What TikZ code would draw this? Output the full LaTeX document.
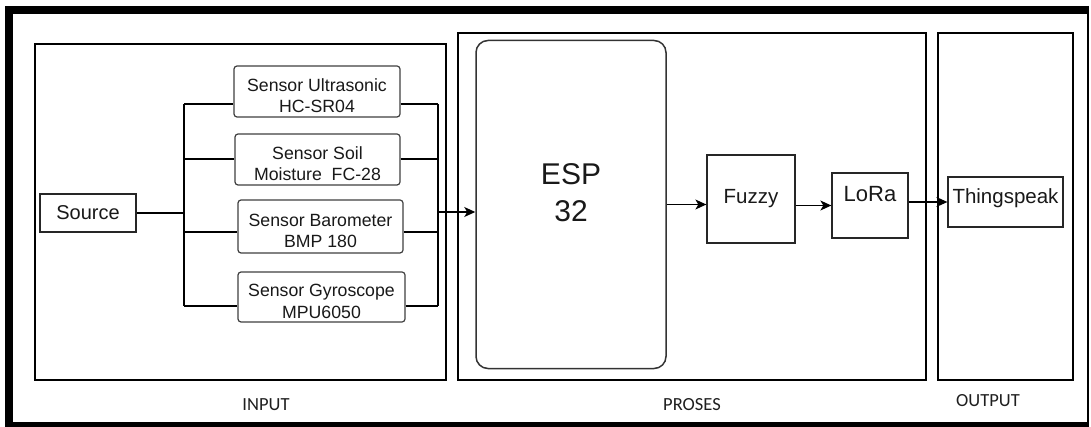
\documentclass[tikz,border=0pt]{standalone}
\usepackage{fontspec}
\setmainfont{Liberation Sans}
\newfontfamily\lblfont{Carlito}
\usetikzlibrary{arrows.meta}
\begin{document}
\begin{tikzpicture}[x=1pt,y=-1pt,
  blk/.style={draw=black!85, line width=1.3pt, inner sep=0pt, text=black!90},
  sens/.style={draw=black!75, line width=1.2pt, rounded corners=3pt, inner sep=0pt,
    align=center, text=black!90, font=\fontsize{17.7}{21.5}\selectfont,
    text height=43pt, text depth=0pt},
  grp/.style={draw=black, line width=1.8pt},
  conn/.style={line width=1.3pt},
  arr/.style={conn, -{Stealth[length=11pt,width=10pt,inset=3pt]}},
  lbl/.style={font=\lblfont\fontsize{18.5}{20}\selectfont, inner sep=0pt, text=black!88}]
\useasboundingbox (0,0) rectangle (1091,427);
\fill[white] (0,0) rectangle (1091,427);
% outer frame
\draw[line width=8pt] (1088,10) -- (9,10) -- (9,426) -- (1088,426);
\draw[line width=2pt] (1088,6) -- (1088,427);
% group boxes
\draw[grp] (35,44) rectangle (446,380);
\draw[grp] (458,33) rectangle (926,380);
\draw[grp] (938,33) rectangle (1073,380);
% nodes
\node[blk, minimum width=96pt, minimum height=38pt, font=\fontsize{20}{22}\selectfont] (source) at (88,213) {Source};
\node[sens, minimum width=166pt, minimum height=51pt] (s1) at (317,91.5) {Sensor Ultrasonic\\HC-SR04};
\node[sens, minimum width=165pt, minimum height=51pt] (s2) at (317.5,159.5) {Sensor Soil\\Moisture\ \ FC-28};
\node[sens, minimum width=165pt, minimum height=53pt] (s3) at (320.5,226.5) {Sensor Barometer\\BMP 180};
\node[sens, minimum width=167pt, minimum height=50pt] (s4) at (321.5,297) {Sensor Gyroscope\\MPU6050};
\node[blk, draw=black!80, line width=1.5pt, rounded corners=12pt, minimum width=190pt, minimum height=328pt,
  align=center, font=\fontsize{30}{37}\selectfont, text height=35pt, text depth=0pt] (esp) at (571,204.5) {ESP\\32};
\node[blk, minimum width=88pt, minimum height=88pt, font=\fontsize{20.5}{22}\selectfont] (fuzzy) at (751,199) {Fuzzy};
\node[blk, minimum width=76pt, minimum height=65pt, font=\fontsize{22}{24}\selectfont, text height=15.5pt, text depth=23.5pt] (lora) at (870,205.5) {LoRa};
\node[blk, minimum width=115pt, minimum height=50pt, font=\fontsize{20.5}{24}\selectfont, text height=16pt, text depth=12.6pt] (thing) at (1005.5,202) {Thingspeak};
% labels
\node[lbl] (lin) at (266,405) {INPUT};
\node[lbl] (lpro) at (692,404.5) {PROSES};
\node[lbl] (lout) at (988,401) {OUTPUT};
% buses
\coordinate (lb1) at (184,104);
\coordinate (lb2) at (184,159);
\coordinate (lb3) at (184,232);
\coordinate (lb4) at (184,306);
\coordinate (rb1) at (438,104);
\coordinate (rb2) at (438,159);
\coordinate (rb3) at (438,232);
\coordinate (rb4) at (438,306);
\coordinate (rbs) at (438,212);
\draw[conn] (lb1) -- (lb4);
\draw[conn] (rb1) -- (rb4);
\draw[conn] (source.east) -- (source.east -| lb1);
\draw[conn] (lb1) -- (lb1 -| s1.west);
\draw[conn] (lb2) -- (lb2 -| s2.west);
\draw[conn] (lb3) -- (lb3 -| s3.west);
\draw[conn] (lb4) -- (lb4 -| s4.west);
\draw[conn] (s1.east |- rb1) -- (rb1);
\draw[conn] (s2.east |- rb2) -- (rb2);
\draw[conn] (s3.east |- rb3) -- (rb3);
\draw[conn] (s4.east |- rb4) -- (rb4);
% arrows
\draw[arr] (rbs) -- (rbs -| esp.west);
\draw[arr] (esp.east) -- (esp.east -| fuzzy.west);
\draw[arr] (fuzzy.east |- lora.west) -- (lora.west);
\draw[arr] (lora.east |- thing.west) -- (thing.west);
\end{tikzpicture}
\end{document}
